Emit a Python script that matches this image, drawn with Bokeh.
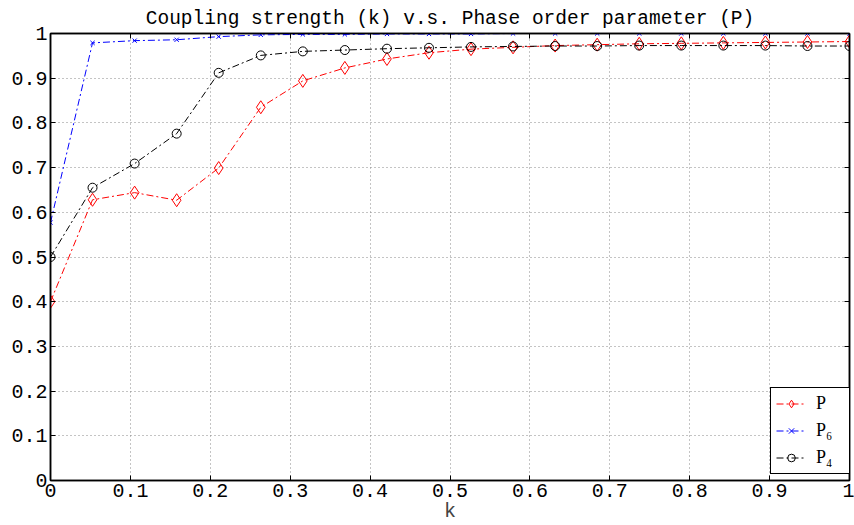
from bokeh.plotting import figure
from bokeh.models import (FixedTicker, LinearAxis, Legend, LegendItem, Range1d)
from bokeh.embed import file_html
from bokeh.resources import INLINE

# ---- data ----
k = [0.0, 0.0526, 0.1053, 0.1579, 0.2105, 0.2632, 0.3158, 0.3684, 0.4211, 0.4737,
     0.5263, 0.5789, 0.6316, 0.6842, 0.7368, 0.7895, 0.8421, 0.8947, 0.9474, 1.0]
P = [0.400, 0.628, 0.644, 0.627, 0.699, 0.835, 0.894, 0.923, 0.943, 0.957,
     0.965, 0.969, 0.973, 0.975, 0.977, 0.978, 0.979, 0.980, 0.981, 0.982]
P6 = [0.577, 0.979, 0.984, 0.986, 0.993, 0.997, 0.998, 0.998, 0.999, 0.999,
      0.999, 1.000, 1.000, 1.000, 1.000, 1.000, 1.000, 1.000, 1.000, 1.000]
P4 = [0.500, 0.655, 0.709, 0.776, 0.912, 0.951, 0.960, 0.963, 0.966, 0.968,
      0.970, 0.971, 0.972, 0.972, 0.973, 0.973, 0.973, 0.973, 0.972, 0.972]

ticks = [0.0, 0.1, 0.2, 0.3, 0.4, 0.5, 0.6, 0.7, 0.8, 0.9, 1.0]
tick_labels = ["0", "0.1", "0.2", "0.3", "0.4", "0.5", "0.6", "0.7", "0.8", "0.9", "1"]

title_text = "Coupling strength (k) v.s. Phase order parameter (P)"
x_label = "k"
series_labels = ["P", "P\u2086", "P\u2084"]

MONO = "Liberation Mono"
SERIF = "Liberation Serif"

p = figure(width=854, height=525, output_backend="svg", toolbar_location=None,
           x_range=Range1d(0, 1), y_range=Range1d(0, 1),
           min_border_left=50, min_border_right=5, min_border_top=33, min_border_bottom=44,
           x_axis_location=None, y_axis_location=None)

p.title.text = title_text
p.title.text_font = MONO
p.title.text_font_size = "19.5px"
p.title.text_font_style = "normal"
p.title.align = "center"
p.title.text_color = "black"
p.title.standoff = 8

overrides = {t: l for t, l in zip(ticks, tick_labels)}
blank = {t: "" for t in ticks}

def make_axis(show_labels, label=None):
    ax = LinearAxis(ticker=FixedTicker(ticks=ticks))
    ax.major_tick_in = 5
    ax.major_tick_out = 0
    ax.minor_tick_line_color = None
    ax.axis_line_color = "black"
    ax.axis_line_width = 1.5
    ax.major_tick_line_color = "black"
    ax.major_tick_line_width = 1
    ax.major_label_text_font = MONO
    if show_labels:
        ax.major_label_overrides = overrides
        ax.major_label_text_font_size = "20px"
        ax.major_label_text_color = "black"
        ax.major_label_standoff = 3
    else:
        ax.major_label_overrides = blank
        ax.major_label_text_font_size = "10px"
        ax.major_label_standoff = 0
    if label:
        ax.axis_label = label
        ax.axis_label_text_font = MONO
        ax.axis_label_text_font_size = "20px"
        ax.axis_label_text_font_style = "normal"
        ax.axis_label_standoff = 0
    return ax

p.add_layout(make_axis(True, x_label), "below")
p.add_layout(make_axis(True), "left")
p.add_layout(make_axis(False), "above")
p.add_layout(make_axis(False), "right")

p.xgrid.ticker = FixedTicker(ticks=ticks)
p.ygrid.ticker = FixedTicker(ticks=ticks)
for g in (p.xgrid, p.ygrid):
    g.grid_line_color = "#888888"
    g.grid_line_dash = "1 3"
    g.grid_line_width = 1

p.outline_line_color = "black"
p.outline_line_width = 1.5
p.background_fill_color = "white"
p.border_fill_color = "white"

dash = "7 3 2 3"

l1 = p.line(k, P, line_color="red", line_dash=dash, line_width=1)
m1 = p.scatter(k, P, marker="diamond", size=13, line_color="red", fill_color=None, line_width=1)
l2 = p.line(k, P6, line_color="blue", line_dash=dash, line_width=1)
m2 = p.scatter(k, P6, marker="x", size=6, line_color="blue", line_width=1)
l3 = p.line(k, P4, line_color="black", line_dash=dash, line_width=1)
m3 = p.scatter(k, P4, marker="circle", size=9, line_color="black", fill_color=None, line_width=1)

legend = Legend(items=[
    LegendItem(label=series_labels[0], renderers=[l1, m1]),
    LegendItem(label=series_labels[1], renderers=[l2, m2]),
    LegendItem(label=series_labels[2], renderers=[l3, m3]),
], location=(720, 6))
legend.label_text_font = SERIF
legend.label_text_font_size = "18px"
legend.label_text_color = "black"
legend.glyph_width = 30
legend.glyph_height = 19
legend.label_height = 19
legend.label_width = 28
legend.label_standoff = 10
legend.spacing = 6
legend.padding = 5
legend.margin = 0
legend.border_line_color = "black"
legend.border_line_width = 1.5
legend.border_line_alpha = 1
legend.background_fill_alpha = 1
p.add_layout(legend)

open("out.html", "w").write(file_html(p, INLINE))
